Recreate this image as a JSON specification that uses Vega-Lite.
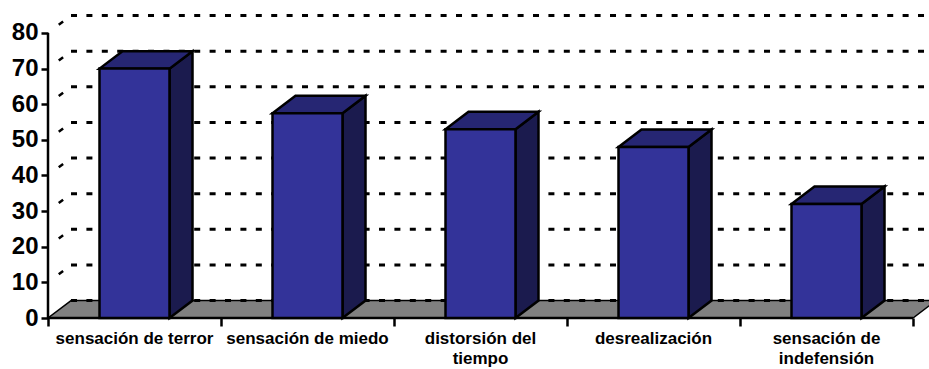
{
  "$schema": "https://vega.github.io/schema/vega-lite/v6.json",
  "width": 881,
  "height": 308,
  "autosize": {"type": "none"},
  "padding": {"left": 48, "top": 10, "right": 0, "bottom": 51},
  "background": "white",
  "config": {"view": {"stroke": null}},
  "data": {
    "values": [
      {"sintoma": "sensación de terror", "orden": 0, "valor": 70},
      {"sintoma": "sensación de miedo", "orden": 1, "valor": 57.5},
      {"sintoma": "distorsión del\ntiempo", "orden": 2, "valor": 53},
      {"sintoma": "desrealización", "orden": 3, "valor": 48},
      {"sintoma": "sensación de\nindefensión", "orden": 4, "valor": 32}
    ]
  },
  "datasets": {
    "niveles": [
      {"nivel": 0}, {"nivel": 10}, {"nivel": 20}, {"nivel": 30}, {"nivel": 40},
      {"nivel": 50}, {"nivel": 60}, {"nivel": 70}, {"nivel": 80}
    ],
    "niveles_pared": [
      {"nivel": 10}, {"nivel": 20}, {"nivel": 30}, {"nivel": 40},
      {"nivel": 50}, {"nivel": 60}, {"nivel": 70}, {"nivel": 80}
    ],
    "suelo": [{"esquina": 0}, {"esquina": 1}],
    "eje": [{"inicio": 0, "fin": 80}]
  },
  "encoding": {
    "x": {
      "field": "gx",
      "type": "quantitative",
      "stack": null,
      "title": null,
      "scale": {"domain": [0, 5.0925], "nice": false, "zero": false},
      "axis": {
        "orient": "bottom",
        "values": [0, 1, 2, 3, 4, 5],
        "labels": false,
        "domain": false,
        "grid": false,
        "ticks": true,
        "tickSize": 8,
        "tickWidth": 2.5,
        "tickColor": "#000000"
      }
    },
    "y": {
      "field": "gy",
      "type": "quantitative",
      "stack": null,
      "title": null,
      "scale": {"domain": [0, 86.456], "nice": false, "zero": false},
      "axis": {
        "orient": "left",
        "values": [0, 10, 20, 30, 40, 50, 60, 70, 80],
        "domain": false,
        "grid": false,
        "tickSize": 7,
        "tickWidth": 2.5,
        "tickColor": "#000000",
        "labelPadding": 3,
        "labelFont": "Liberation Sans",
        "labelFontWeight": "bold",
        "labelFontSize": 24,
        "labelColor": "#000000",
        "labelOverlap": false,
        "labelBound": false,
        "labelFlush": false
      }
    }
  },
  "layer": [
    {
      "description": "Floor of the 3D plot",
      "data": {"name": "suelo"},
      "transform": [
        {"calculate": "datum.esquina * 0.133", "as": "gx"},
        {"calculate": "5 + datum.esquina * 0.133", "as": "gx2"},
        {"calculate": "datum.esquina * 4.9", "as": "gy"}
      ],
      "mark": {"type": "area", "orient": "horizontal", "fill": "#808080", "stroke": "#000000", "strokeWidth": 1.5},
      "encoding": {"x2": {"field": "gx2"}}
    },
    {
      "description": "Dashed gridlines on the back wall",
      "data": {"name": "niveles"},
      "transform": [
        {"calculate": "0.133", "as": "gx"},
        {"calculate": "5.133", "as": "gx2"},
        {"calculate": "datum.nivel + 4.9", "as": "gy"}
      ],
      "mark": {"type": "rule", "stroke": "#000000", "strokeWidth": 3, "strokeDash": [6, 9.4]},
      "encoding": {"x2": {"field": "gx2"}}
    },
    {
      "description": "Short slanted dash on the side wall at each level",
      "data": {"name": "niveles_pared"},
      "transform": [
        {"calculate": "[0, 1]", "as": "esquina"},
        {"flatten": ["esquina"]},
        {"calculate": "datum.esquina * 0.133", "as": "gx"},
        {"calculate": "datum.nivel + datum.esquina * 4.9", "as": "gy"}
      ],
      "mark": {"type": "line", "stroke": "#000000", "strokeWidth": 2.5, "strokeDash": [0, 13.5, 5.5, 100]},
      "encoding": {"detail": {"field": "nivel"}}
    },
    {
      "description": "Vertical value axis line",
      "data": {"name": "eje"},
      "transform": [
        {"calculate": "0", "as": "gx"},
        {"calculate": "datum.inicio", "as": "gy"},
        {"calculate": "datum.fin", "as": "gy2"}
      ],
      "mark": {"type": "rule", "stroke": "#000000", "strokeWidth": 2.5},
      "encoding": {"y2": {"field": "gy2"}}
    },
    {
      "description": "Front edge of the floor",
      "data": {"name": "eje"},
      "transform": [
        {"calculate": "0", "as": "gx"},
        {"calculate": "5", "as": "gx2"},
        {"calculate": "datum.inicio", "as": "gy"}
      ],
      "mark": {"type": "rule", "stroke": "#000000", "strokeWidth": 2.5},
      "encoding": {"x2": {"field": "gx2"}}
    },
    {
      "description": "Right-hand face of each column",
      "transform": [
        {"calculate": "[0, 1]", "as": "esquina"},
        {"flatten": ["esquina"]},
        {"calculate": "datum.orden + 0.7023 + datum.esquina * 0.133", "as": "gx"},
        {"calculate": "datum.esquina * 4.9", "as": "gy"},
        {"calculate": "datum.valor + datum.esquina * 4.9", "as": "gy2"}
      ],
      "mark": {"type": "area", "orient": "vertical", "fill": "#1B1B4E", "stroke": "#000000", "strokeWidth": 2.5},
      "encoding": {"y2": {"field": "gy2"}, "detail": {"field": "orden"}}
    },
    {
      "description": "Top face of each column",
      "transform": [
        {"calculate": "[0, 1]", "as": "esquina"},
        {"flatten": ["esquina"]},
        {"calculate": "datum.orden + 0.2977 + datum.esquina * 0.133", "as": "gx"},
        {"calculate": "datum.orden + 0.7023 + datum.esquina * 0.133", "as": "gx2"},
        {"calculate": "datum.valor + datum.esquina * 4.9", "as": "gy"}
      ],
      "mark": {"type": "area", "orient": "horizontal", "fill": "#262673", "stroke": "#000000", "strokeWidth": 2.5},
      "encoding": {"x2": {"field": "gx2"}, "detail": {"field": "orden"}}
    },
    {
      "description": "Front face of each column",
      "transform": [
        {"calculate": "datum.orden + 0.2977", "as": "gx"},
        {"calculate": "datum.orden + 0.7023", "as": "gx2"},
        {"calculate": "datum.valor", "as": "gy"},
        {"calculate": "0", "as": "gy2"}
      ],
      "mark": {"type": "rect", "fill": "#333399", "stroke": "#000000", "strokeWidth": 2.5},
      "encoding": {"x2": {"field": "gx2"}, "y2": {"field": "gy2"}}
    },
    {
      "description": "Category labels under the floor",
      "transform": [
        {"calculate": "datum.orden + 0.5", "as": "gx"},
        {"calculate": "0", "as": "gy"}
      ],
      "mark": {
        "type": "text",
        "font": "Liberation Sans",
        "fontWeight": "bold",
        "fontSize": 17,
        "color": "#000000",
        "align": "center",
        "baseline": "alphabetic",
        "dy": 26,
        "lineBreak": "\n",
        "lineHeight": 20
      },
      "encoding": {"text": {"field": "sintoma", "type": "nominal"}}
    }
  ]
}
